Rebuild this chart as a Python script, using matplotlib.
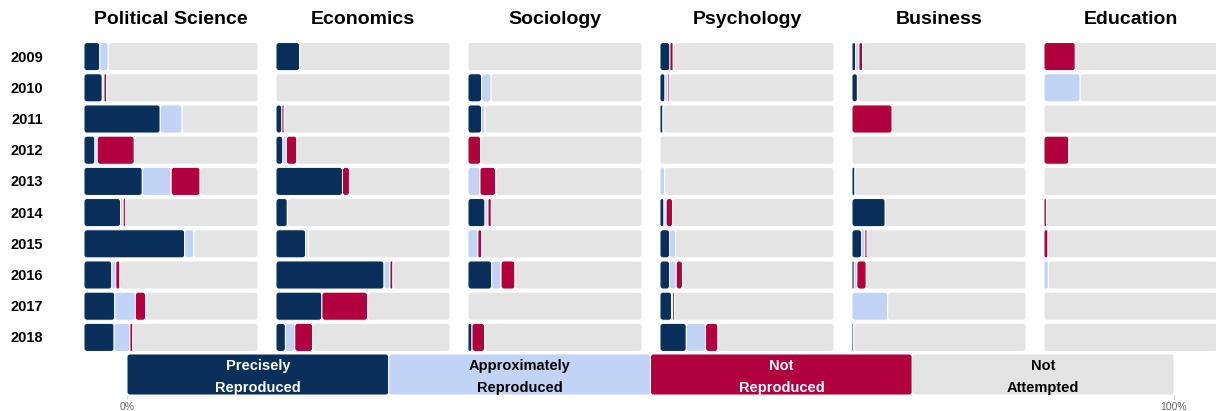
import numpy as np
import matplotlib
matplotlib.use("Agg")
import matplotlib.pyplot as plt
from matplotlib.patches import FancyBboxPatch

plt.rcParams['font.family'] = ['Liberation Sans', 'DejaVu Sans']

years = ['2009', '2010', '2011', '2012', '2013', '2014', '2015', '2016', '2017', '2018']
fields = ['Political Science', 'Economics', 'Sociology', 'Psychology', 'Business', 'Education']
categories = ['Precisely\nReproduced', 'Approximately\nReproduced', 'Not\nReproduced', 'Not\nAttempted']

# percent of articles per year: precisely / approximately / not reproduced
precise = {
    'Political Science': [9.1, 10.5, 43.8, 6.3, 33.5, 21.0, 57.9, 16.0, 17.7, 17.3],
    'Economics':         [13.6, 0, 3.4, 4.0, 38.2, 6.5, 17.0, 62.1, 26.4, 5.4],
    'Sociology':         [0, 7.8, 7.8, 0, 0, 9.8, 0, 13.6, 0, 2.3],
    'Psychology':        [5.7, 2.9, 1.7, 0, 0, 2.3, 5.5, 5.5, 6.7, 15.1],
    'Business':          [2.1, 3.1, 0, 0, 1.7, 19.1, 5.5, 1.3, 0, 1.0],
    'Education':         [0, 0, 0, 0, 0, 0, 0, 0, 0, 0],
}
approx = {
    'Political Science': [4.8, 1.0, 12.6, 1.3, 16.6, 1.5, 5.3, 2.3, 11.8, 9.1],
    'Economics':         [0, 0, 0, 1.9, 0, 0, 1.5, 3.4, 0, 5.4],
    'Sociology':         [0, 5.5, 1.9, 0, 6.9, 1.7, 5.7, 5.4, 0, 0],
    'Psychology':        [0, 1.7, 0, 0, 2.7, 1.2, 3.4, 3.8, 0.6, 11.1],
    'Business':          [1.9, 0, 0, 0, 0, 0, 1.9, 1.5, 20.5, 0],
    'Education':         [0, 20.8, 0, 0, 0, 0, 0, 2.5, 0, 0],
}
notrep = {
    'Political Science': [0, 1.5, 0, 21.3, 16.6, 1.3, 0, 2.3, 5.9, 1.7],
    'Economics':         [0, 0, 1.3, 6.1, 4.0, 0, 0, 1.7, 26.2, 10.3],
    'Sociology':         [0, 0, 0, 7.3, 9.0, 1.9, 2.1, 8.0, 0, 7.3],
    'Psychology':        [1.9, 1.0, 0, 0, 0, 3.8, 0, 3.6, 1.1, 7.1],
    'Business':          [2.1, 0, 23.1, 0, 0, 0, 1.3, 5.4, 0, 0],
    'Education':         [18.0, 0, 0, 14.3, 0, 1.4, 2.3, 0, 0, 0],
}
legend_share = [25, 25, 25, 25]

colors = ['#08305a', '#c2d4f5', '#b0003e', '#e4e4e4']
text_colors = ['white', 'black', 'white', 'black']

W, H = 1216, 411
fig = plt.figure(figsize=(W / 100, H / 100), dpi=100)


def px_axes(x0, y0, w, h):
    return fig.add_axes([x0 / W, 1 - (y0 + h) / H, w / W, h / H])


def round_bars(ax, bars, w_px, h_px, r_px=3.0):
    x0, x1 = ax.get_xlim()
    y0, y1 = ax.get_ylim()
    ux = abs(x1 - x0) / w_px
    uy = abs(y1 - y0) / h_px
    for b in bars:
        bw = b.get_width()
        if bw <= 0:
            b.remove()
            continue
        r = min(r_px * ux, bw / 2)
        p = FancyBboxPatch((b.get_x(), b.get_y()), bw, b.get_height(),
                           boxstyle='round,pad=0,rounding_size=%f' % r,
                           mutation_aspect=uy / ux,
                           facecolor=b.get_facecolor(), edgecolor='white',
                           linewidth=0.7)
        ax.add_patch(p)
        b.remove()


panel_w, panel_h = 174, 312
lefts = [84, 276, 468, 660, 852, 1044]
top = 41
ypos = np.arange(len(years))

for i, f in enumerate(fields):
    ax = px_axes(lefts[i], top, panel_w, panel_h)
    ax.set_xlim(0, 100)
    ax.set_ylim(len(years) - 0.5, -0.5)
    p = np.array(precise[f])
    a = np.array(approx[f])
    n = np.array(notrep[f])
    rest = 100 - p - a - n
    left = np.zeros(len(years))
    for vals, c in zip([p, a, n, rest], colors):
        bars = ax.barh(ypos, vals, left=left, height=0.9, color=c)
        round_bars(ax, bars, panel_w, panel_h)
        left = left + vals
    ax.axis('off')
    ax.text(0.5, 1 + 22 / panel_h, f, transform=ax.transAxes, ha='center', va='center',
            fontsize=14, fontweight='bold')
    if i == 0:
        for y, lab in zip(ypos, years):
            ax.text(-57 / panel_w * 100, y + 0.03, lab, ha='center', va='center',
                    fontsize=10.5, fontweight='bold')

# legend bar
lw, lh = 1047, 41
lax = px_axes(127, 354, lw, lh)
lax.set_xlim(0, 100)
lax.set_ylim(-0.5, 0.5)
left = 0
for share, c, lab, tc in zip(legend_share, colors, categories, text_colors):
    bars = lax.barh([0], [share], left=left, height=1.0, color=c)
    round_bars(lax, bars, lw, lh)
    lax.text(left + share / 2, -0.07, lab, ha='center', va='center', color=tc,
             fontsize=10.5, fontweight='bold', linespacing=1.75)
    left += share
for s in lax.spines.values():
    s.set_visible(False)
lax.set_yticks([])
lax.set_xticks([0, 100])
lax.set_xticklabels(['0%', '100%'])
lax.tick_params(axis='x', length=3, width=0.6, color='#cccccc', labelsize=7.5,
                labelcolor='#666666', pad=2)

fig.savefig('out.png', dpi=100)
